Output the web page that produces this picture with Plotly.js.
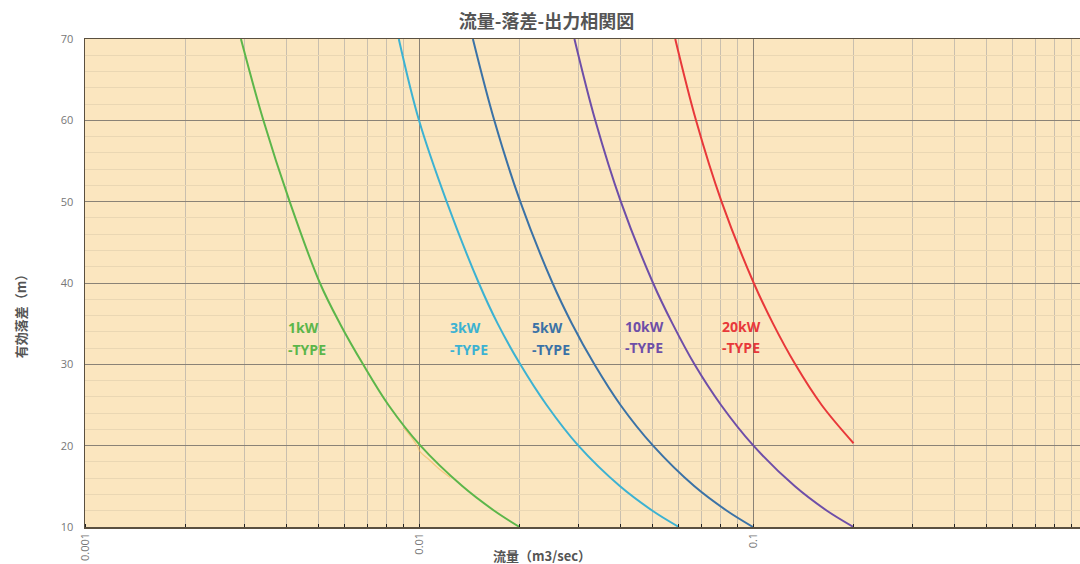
<!DOCTYPE html>
<html>
<head>
<meta charset="utf-8">
<script src="https://cdn.plot.ly/plotly-3.0.1.min.js"></script>
<style>html,body{margin:0;padding:0;background:#fff;}#chart{width:1080px;height:564px;}</style>
</head>
<body>
<div id="chart"></div>
<script>
// Effective head (m) sample points
const headM = [70, 60, 50, 40, 35, 30, 25, 20, 15, 12, 10];
const head20kW = [70, 60, 50, 40, 35, 30, 25, 20.3];
// Flow (m3/sec)
const flow1kW  = [0.00293, 0.00342, 0.0041, 0.00505, 0.0058, 0.0068, 0.0081, 0.0101, 0.0135, 0.0168, 0.0200];
const flow3kW  = [0.0087, 0.0100, 0.0121, 0.0151, 0.0172, 0.0201, 0.0241, 0.0300, 0.0400, 0.0500, 0.0600];
const flow5kW  = [0.0145, 0.0168, 0.0201, 0.0251, 0.0287, 0.0335, 0.0401, 0.0502, 0.0668, 0.0835, 0.1000];
const flow10kW = [0.0292, 0.0337, 0.0402, 0.0502, 0.0574, 0.0668, 0.0802, 0.1003, 0.1335, 0.1665, 0.2000];
const flow20kW = [0.0585, 0.0675, 0.0805, 0.1005, 0.1148, 0.1338, 0.1605, 0.2000];
// faint orange segment near 1kW curve
const orangeFlow = [0.0090, 0.0095, 0.0099, 0.0101, 0.0107, 0.0116, 0.0124];
const orangeHead = [22.2, 21.0, 19.9, 19.2, 18.3, 17.0, 16.1];

const seriesNames = ["1kW", "3kW", "5kW", "10kW", "20kW"];
const seriesColors = ["#5cb64a", "#3cb2d2", "#3b72a6", "#6e4ea8", "#e8383a"];
const labelFlow = [0.004, 0.0122, 0.0215, 0.0408, 0.0795];
const labelHead1 = [34.5, 34.5, 34.5, 34.7, 34.7];
const labelHead2 = [31.8, 31.8, 31.8, 32.1, 32.1];

const flows = [flow1kW, flow3kW, flow5kW, flow10kW, flow20kW];
const heads = [headM, headM, headM, headM, head20kW];

const traces = [];
traces.push({x: orangeFlow, y: orangeHead, mode: 'lines', line: {color: '#f2b04a', width: 1.2, shape: 'spline'}, opacity: 0.55, hoverinfo: 'skip', showlegend: false});
for (let i = 0; i < 5; i++) {
  traces.push({x: flows[i], y: heads[i], mode: 'lines', name: seriesNames[i],
    line: {color: seriesColors[i], width: 2, shape: 'spline', smoothing: 1}, showlegend: false});
}

const labelFont = (c) => ({family: 'Open Sans, Noto Sans, sans-serif', size: 14, color: c});
const annotations = [];
for (let i = 0; i < 5; i++) {
  annotations.push({x: Math.log10(labelFlow[i]), y: labelHead1[i], xref: 'x', yref: 'y',
    text: '<b>' + seriesNames[i] + '</b>', showarrow: false, xanchor: 'left', yanchor: 'middle', font: labelFont(seriesColors[i])});
  annotations.push({x: Math.log10(labelFlow[i]), y: labelHead2[i], xref: 'x', yref: 'y',
    text: '<b>-TYPE</b>', showarrow: false, xanchor: 'left', yanchor: 'middle', font: labelFont(seriesColors[i])});
}
annotations.push({xref: 'paper', yref: 'paper', x: -0.065, xanchor: 'center', y: 0.4385, yanchor: 'middle',
  text: '<b>有効落差（m）</b>', textangle: -90, showarrow: false,
  font: {family: 'Noto Sans CJK JP', size: 13, color: '#555'}});
annotations.push({xref: 'paper', yref: 'paper', x: 0.459, xanchor: 'center', y: -0.0574, yanchor: 'middle',
  text: '<b>流量（m3/sec）</b>', showarrow: false,
  font: {family: 'Noto Sans CJK JP', size: 13, color: '#555'}});

const layout = {
  width: 1080, height: 564,
  margin: {l: 85, r: 0, t: 39, b: 37},
  font: {color: '#777', family: 'Open Sans, sans-serif'},
  paper_bgcolor: '#ffffff', plot_bgcolor: '#fbe6bf',
  title: {text: '<b>流量-落差-出力相関図</b>', x: 0.506, xanchor: 'center', y: 0.962, yanchor: 'middle',
    font: {family: 'Noto Sans CJK JP', size: 18, color: '#555'}},
  xaxis: {type: 'log', range: [-3, -0.021], tickvals: [0.001, 0.01, 0.1], ticktext: ['0.001', '0.01', '0.1'],
    tickangle: -90, tickfont: {family: 'Open Sans, sans-serif', size: 11, color: '#777'},
    showgrid: true, gridcolor: '#8a8276', gridwidth: 1,
    minor: {dtick: 'D1', showgrid: true, gridcolor: '#c9bfae', gridwidth: 1, ticks: 'inside', ticklen: 3, tickcolor: '#222'},
    showline: true, linecolor: '#5a5040', linewidth: 1.5, mirror: true, zeroline: false, ticks: ''},
  yaxis: {range: [10, 70], dtick: 10, tickfont: {family: 'Open Sans, sans-serif', size: 11, color: '#777'},
    ticklabelstandoff: 8,
    showgrid: true, gridcolor: '#8a8276', gridwidth: 1,
    minor: {dtick: 2, showgrid: true, gridcolor: '#ead7b3', gridwidth: 1},
    showline: true, linecolor: '#5a5040', linewidth: 1.5, zeroline: false, ticks: ''},
  annotations: annotations,
  showlegend: false
};

Plotly.newPlot('chart', traces, layout, {displayModeBar: false, staticPlot: true});
</script>
</body>
</html>
